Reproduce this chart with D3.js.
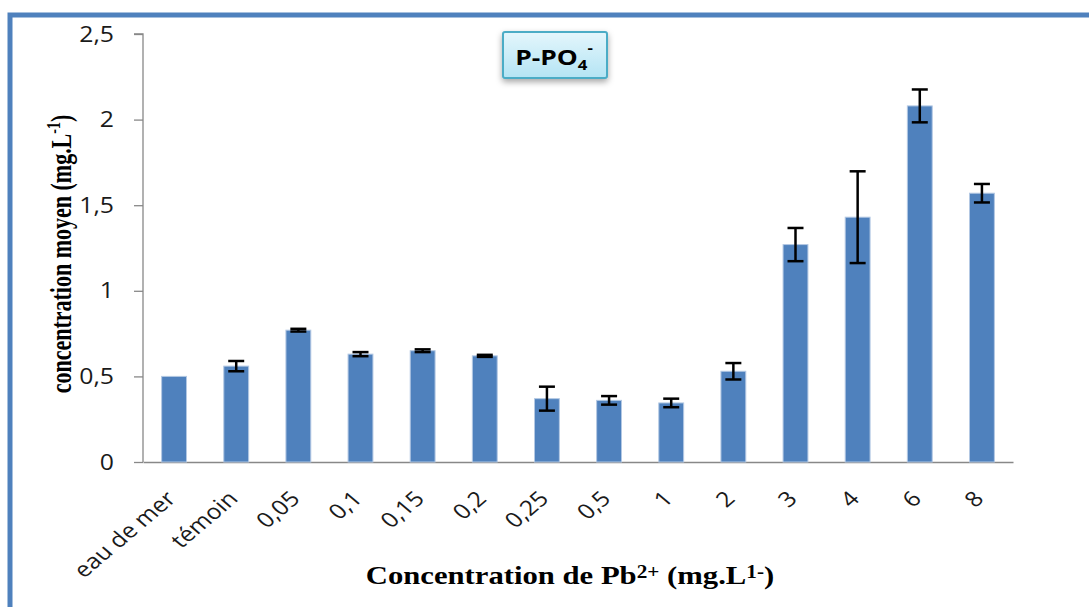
<!DOCTYPE html>
<html>
<head>
<meta charset="utf-8">
<script src="https://cdn.jsdelivr.net/npm/d3@7"></script>
<style>
  body { margin: 0; background: #fff; }
  svg { display: block; }
</style>
</head>
<body>
<svg id="chart" width="1089" height="607"></svg>
<script>
// categories on the x axis (concentration of Pb2+)
const categories = ["eau de mer", "témoin", "0,05", "0,1", "0,15", "0,2", "0,25", "0,5", "1", "2", "3", "4", "6", "8"];
// mean P-PO4 concentration (mg/L)
const meanValues = [0.50, 0.56, 0.77, 0.63, 0.65, 0.62, 0.37, 0.36, 0.345, 0.53, 1.27, 1.43, 2.08, 1.57];
// error (+/-), 0 means no bar
const errValues = [0, 0.03, 0.008, 0.012, 0.008, 0.006, 0.07, 0.025, 0.025, 0.048, 0.097, 0.268, 0.096, 0.054];
const yTicks = [0, 0.5, 1, 1.5, 2, 2.5];

const svg = d3.select("#chart");
const plotLeft = 143, plotRight = 1013, plotTop = 34, plotBottom = 462;
// the reference looks stretched a bit horizontally, texts get this too
const sx = 1.18;
const fmt = (d) => String(d).replace(".", ",");

const x = d3.scaleBand().domain(categories).range([plotLeft, plotRight]).paddingInner(0.6).paddingOuter(0.3);
const y = d3.scaleLinear().domain([0, 2.5]).range([plotBottom, plotTop]);

// blue frame around the chart
svg.append("rect")
    .attr("x", 10).attr("y", 15)
    .attr("width", 1200).attr("height", 800)
    .attr("fill", "none")
    .attr("stroke", "#4f81bd")
    .attr("stroke-width", 5);

// y axis
const yAxis = svg.append("g")
    .attr("transform", `translate(${plotLeft},0)`)
    .call(d3.axisLeft(y).tickValues(yTicks).tickSize(9).tickPadding(0).tickFormat(() => ""));
yAxis.select(".domain").attr("stroke", "#888").attr("stroke-width", 1.3).attr("d", `M-9,${plotTop}H0V${plotBottom}`);
yAxis.selectAll(".tick line").attr("stroke", "#888").attr("stroke-width", 1.3);

svg.append("g").selectAll("text")
    .data(yTicks)
    .join("text")
    .attr("transform", (d) => `translate(114,${y(d)}) scale(${sx},1)`)
    .attr("dy", "0.36em")
    .attr("text-anchor", "end")
    .attr("font-family", "'Open Sans', sans-serif")
    .attr("font-size", 21)
    .attr("fill", "#1a1a1a")
    .text(fmt);

// x axis
const xAxis = svg.append("g")
    .attr("transform", `translate(0,${plotBottom})`)
    .call(d3.axisBottom(x).tickSize(0).tickFormat(() => ""));
xAxis.select(".domain").attr("stroke", "#888").attr("stroke-width", 1.3);

svg.append("g").selectAll("text")
    .data(categories)
    .join("text")
    .attr("transform", (d) => `translate(${x(d) + x.bandwidth() / 2 + 3},${plotBottom + 38}) scale(${sx},1) rotate(-45)`)
    .attr("text-anchor", "end")
    .attr("font-family", "'Open Sans', sans-serif")
    .attr("font-size", 21)
    .attr("fill", "#1a1a1a")
    .text((d) => d);

// bars
svg.append("g").selectAll("rect")
    .data(categories)
    .join("rect")
    .attr("x", (d) => x(d))
    .attr("y", (d, i) => y(meanValues[i]))
    .attr("width", x.bandwidth())
    .attr("height", (d, i) => y(0) - y(meanValues[i]))
    .attr("fill", "#4f81bd")
    .attr("stroke", "#b3c8e3")
    .attr("stroke-width", 1);

// error bars
const cap = 8;
const errs = svg.append("g")
    .attr("stroke", "#000")
    .attr("stroke-width", 2.5)
    .selectAll("g")
    .data(categories.filter((d, i) => errValues[i] > 0))
    .join("g");
errs.append("line")
    .attr("x1", (d) => x(d) + x.bandwidth() / 2)
    .attr("x2", (d) => x(d) + x.bandwidth() / 2)
    .attr("y1", (d) => { const i = categories.indexOf(d); return y(meanValues[i] + errValues[i]); })
    .attr("y2", (d) => { const i = categories.indexOf(d); return y(meanValues[i] - errValues[i]); });
[1, -1].forEach((s) => {
    errs.append("line")
        .attr("x1", (d) => x(d) + x.bandwidth() / 2 - cap)
        .attr("x2", (d) => x(d) + x.bandwidth() / 2 + cap)
        .attr("y1", (d) => { const i = categories.indexOf(d); return y(meanValues[i] + s * errValues[i]); })
        .attr("y2", (d) => { const i = categories.indexOf(d); return y(meanValues[i] + s * errValues[i]); });
});

// axis titles
svg.append("text")
    .attr("transform", `translate(71,254) scale(1.35,1) rotate(-90)`)
    .attr("text-anchor", "middle")
    .attr("font-family", "'Liberation Serif', serif")
    .attr("font-weight", "bold")
    .attr("font-size", 22)
    .call((t) => {
        t.append("tspan").text("concentration moyen (mg.L");
        t.append("tspan").attr("font-size", 14).attr("dy", -8).text("-1");
        t.append("tspan").attr("dy", 8).text(")");
    });

svg.append("text")
    .attr("transform", `translate(570,584) scale(${sx},1)`)
    .attr("text-anchor", "middle")
    .attr("font-family", "'Liberation Serif', serif")
    .attr("font-weight", "bold")
    .attr("font-size", 26)
    .call((t) => {
        t.append("tspan").text("Concentration de Pb");
        t.append("tspan").attr("font-size", 18).attr("dy", -6).text("2+");
        t.append("tspan").attr("dy", 6).text(" (mg.L");
        t.append("tspan").attr("font-size", 18).attr("dy", -6).text("1-");
        t.append("tspan").attr("dy", 6).text(")");
    });

// title box
const defs = svg.append("defs");
const grad = defs.append("linearGradient").attr("id", "tbg").attr("x1", 0).attr("y1", 0).attr("x2", 0).attr("y2", 1);
grad.append("stop").attr("offset", "0%").attr("stop-color", "#e4f6fc");
grad.append("stop").attr("offset", "100%").attr("stop-color", "#b4e4f4");
const shadow = defs.append("filter").attr("id", "shd").attr("x", "-20%").attr("y", "-20%").attr("width", "140%").attr("height", "160%");
shadow.append("feDropShadow").attr("dx", 0).attr("dy", 3).attr("stdDeviation", 3).attr("flood-color", "#000").attr("flood-opacity", 0.35);

svg.append("rect")
    .attr("x", 503).attr("y", 32)
    .attr("width", 104).attr("height", 46)
    .attr("rx", 2)
    .attr("fill", "url(#tbg)")
    .attr("stroke", "#4bacc6")
    .attr("stroke-width", 2)
    .attr("filter", "url(#shd)");

svg.append("text")
    .attr("transform", "translate(554,65) scale(1.2,1)")
    .attr("text-anchor", "middle")
    .attr("font-family", "'Open Sans', sans-serif")
    .attr("font-weight", "bold")
    .attr("font-size", 22)
    .call((t) => {
        t.append("tspan").text("P-PO");
        t.append("tspan").attr("font-size", 14).attr("dy", 5).text("4");
        t.append("tspan").attr("font-size", 14).attr("dy", -17).text("-");
    });
</script>
</body>
</html>
